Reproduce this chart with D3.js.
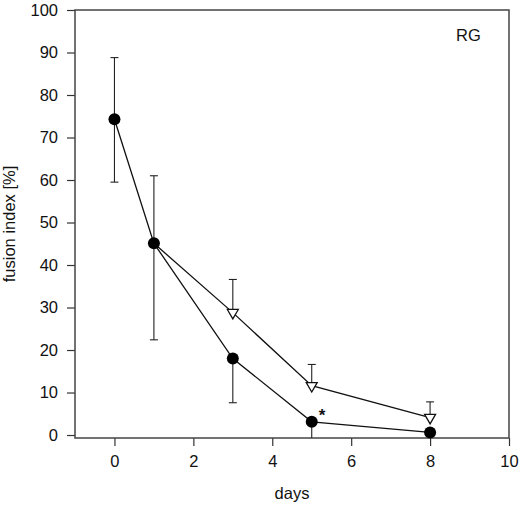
<!DOCTYPE html>
<html lang="en">
  <head>
    <meta charset="UTF-8" />
    <title>fusion index RG</title>
    <script src="https://cdn.jsdelivr.net/npm/d3@7/dist/d3.min.js"></script>
    <style>
      body { margin: 0; background: #fff; }
      text { font-family: "Liberation Sans", Arial, sans-serif; fill: #111; }
    </style>
  </head>
  <body>
    <svg id="svg" width="520" height="505"></svg>
    <script>
      // filled circles
      const days = [0, 1, 3, 5, 8];
      const fusion = [74.3, 45.1, 18.0, 3.1, 0.6];
      const fusionLow = [59.5, 22.4, 7.6, -1, null];
      const fusionHigh = [88.8, 61.0, null, null, null];

      // open triangles
      const triDays = [1, 3, 5, 8];
      const triFusion = [45.1, 28.8, 11.6, 4.1];
      const triHigh = [null, 36.6, 16.6, 7.8];

      const xTicks = [0, 2, 4, 6, 8, 10];
      const yTicks = [0, 10, 20, 30, 40, 50, 60, 70, 80, 90, 100];

      const margin = { top: 10, right: 11, bottom: 67, left: 75 };
      const width = 520 - margin.left - margin.right;
      const height = 505 - margin.top - margin.bottom;

      const svg = d3.select("#svg");
      const g = svg
        .append("g")
        .attr("transform", `translate(${margin.left},${margin.top})`);

      const x = d3.scaleLinear().domain([-1, 10]).range([0, width]);
      const y = d3.scaleLinear().domain([-0.7, 100]).range([height, 0]);

      g.append("clipPath")
        .attr("id", "clip")
        .append("rect")
        .attr("width", width)
        .attr("height", height);

      // axes
      const xAxis = g
        .append("g")
        .attr("transform", `translate(0,${height})`)
        .call(
          d3.axisBottom(x).tickValues(xTicks).tickSize(8).tickPadding(9.5).tickSizeOuter(0)
        );
      const yAxis = g
        .append("g")
        .call(
          d3.axisLeft(y).tickValues(yTicks).tickSize(8).tickPadding(9).tickSizeOuter(0)
        );
      [xAxis, yAxis].forEach(a => {
        a.select(".domain").remove();
        a.selectAll("line").attr("stroke", "#333").attr("stroke-width", 1.2);
        a.selectAll("text")
          .style("font-size", "16.5px")
          .style("font-family", '"Liberation Sans", Arial, sans-serif')
          .attr("fill", "#111");
      });

      // frame
      g.append("rect")
        .attr("width", width)
        .attr("height", height)
        .attr("fill", "none")
        .attr("stroke", "#444")
        .attr("stroke-width", 1.5);

      const plot = g.append("g").attr("clip-path", "url(#clip)");

      const line = d3
        .line()
        .x(d => x(d[0]))
        .y(d => y(d[1]));

      plot.append("path")
        .attr("d", line(triDays.map((d, i) => [d, triFusion[i]])))
        .attr("fill", "none")
        .attr("stroke", "#111")
        .attr("stroke-width", 1.3);
      plot.append("path")
        .attr("d", line(days.map((d, i) => [d, fusion[i]])))
        .attr("fill", "none")
        .attr("stroke", "#111")
        .attr("stroke-width", 1.3);

      // error bars
      function errBar(xv, mean, bound) {
        if (bound == null) return;
        plot.append("line")
          .attr("x1", x(xv)).attr("x2", x(xv))
          .attr("y1", y(mean)).attr("y2", y(bound))
          .attr("stroke", "#222").attr("stroke-width", 1.1);
        if (bound >= 0) {
          plot.append("line")
            .attr("x1", x(xv) - 4).attr("x2", x(xv) + 4)
            .attr("y1", y(bound)).attr("y2", y(bound))
            .attr("stroke", "#222").attr("stroke-width", 1.1);
        }
      }
      days.forEach((d, i) => {
        errBar(d, fusion[i], fusionLow[i]);
        errBar(d, fusion[i], fusionHigh[i]);
      });
      triDays.forEach((d, i) => errBar(d, triFusion[i], triHigh[i]));

      // markers
      const tri = d3.symbol().type(d3.symbolTriangle).size(52);
      g.selectAll(".tri")
        .data(triDays.map((d, i) => [d, triFusion[i]]).slice(1))
        .enter()
        .append("path")
        .attr("d", tri)
        .attr("transform", d => `translate(${x(d[0])},${y(d[1])}) rotate(180)`)
        .attr("fill", "#fff")
        .attr("stroke", "#111")
        .attr("stroke-width", 1.3);

      g.selectAll(".dot")
        .data(days.map((d, i) => [d, fusion[i]]))
        .enter()
        .append("circle")
        .attr("cx", d => x(d[0]))
        .attr("cy", d => y(d[1]))
        .attr("r", 6)
        .attr("fill", "#000");

      // asterisk at day 5
      g.append("text")
        .attr("x", x(5) + 7)
        .attr("y", y(3.1) - 1)
        .style("font-size", "17px")
        .style("font-weight", "bold")
        .text("*");

      g.append("text")
        .attr("x", 381)
        .attr("y", 31)
        .style("font-size", "16.5px")
        .text("RG");

      // axis titles
      svg.append("text")
        .attr("x", margin.left + width / 2)
        .attr("y", 499)
        .attr("text-anchor", "middle")
        .style("font-size", "16.5px")
        .text("days");
      svg.append("text")
        .attr("transform", `translate(15,${margin.top + height / 2}) rotate(-90)`)
        .attr("text-anchor", "middle")
        .style("font-size", "16.5px")
        .text("fusion index [%]");
    </script>
  </body>
</html>
